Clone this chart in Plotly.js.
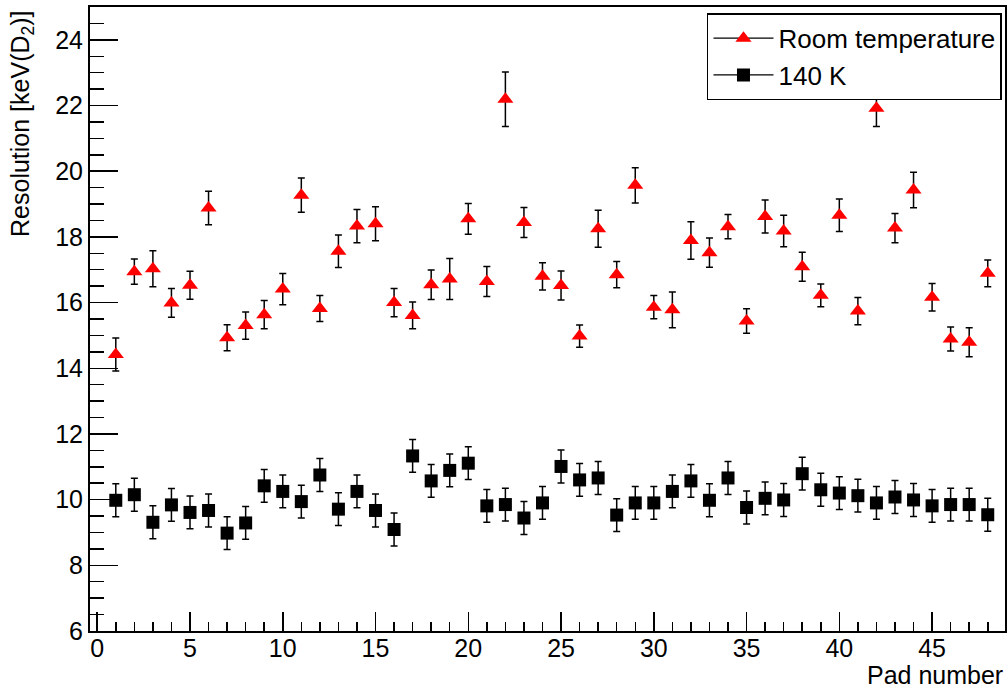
<!DOCTYPE html>
<html><head><meta charset="utf-8">
<script src="https://cdn.plot.ly/plotly-3.0.1.min.js"></script>
<style>html,body{margin:0;padding:0;background:#fff}#plot{width:1008px;height:689px}</style>
</head><body><div id="plot"></div>
<script>
const pads = [1,2,3,4,5,6,7,8,9,10,11,12,13,14,15,16,17,18,19,20,21,22,23,24,25,26,27,28,29,30,31,32,33,34,35,36,37,38,39,40,41,42,43,44,45,46,47,48];
const roomTemp = [14.42,16.94,17.03,15.99,16.53,18.88,14.93,15.30,15.63,16.41,19.27,15.82,17.56,18.33,18.40,16.00,15.61,16.54,16.72,18.55,16.64,22.19,18.44,16.80,16.52,14.98,18.25,16.85,19.57,15.86,15.78,17.89,17.52,18.31,15.44,18.62,18.18,17.09,16.22,18.66,15.74,21.92,18.27,19.43,16.16,14.89,14.79,16.89];
const roomTempErr = [0.50,0.385,0.545,0.435,0.425,0.51,0.395,0.415,0.43,0.475,0.52,0.395,0.495,0.505,0.515,0.43,0.41,0.45,0.625,0.47,0.455,0.83,0.455,0.415,0.44,0.34,0.565,0.40,0.535,0.355,0.545,0.57,0.445,0.37,0.375,0.50,0.48,0.44,0.345,0.495,0.415,0.56,0.445,0.54,0.42,0.365,0.44,0.41];
const cold = [9.98,10.15,9.31,9.84,9.61,9.67,8.98,9.29,10.42,10.25,9.94,10.75,9.71,10.25,9.67,9.09,11.33,10.57,10.89,11.11,9.81,9.85,9.44,9.90,11.01,10.60,10.66,9.53,9.90,9.90,10.25,10.57,9.98,10.66,9.76,10.04,9.99,10.79,10.30,10.20,10.12,9.90,10.08,9.99,9.81,9.85,9.85,9.54];
const coldErr = [0.5,0.5,0.5,0.5,0.5,0.5,0.5,0.5,0.5,0.5,0.5,0.5,0.5,0.5,0.5,0.5,0.5,0.5,0.5,0.5,0.5,0.5,0.5,0.5,0.5,0.5,0.5,0.5,0.5,0.5,0.5,0.5,0.5,0.5,0.5,0.5,0.5,0.5,0.5,0.5,0.5,0.5,0.5,0.5,0.5,0.5,0.5,0.5];
const seriesNames = ['Room temperature', '140 K'];
const xTitle = 'Pad number';
const yTitle = 'Resolution [keV(D<sub>2</sub>)]';

const FONT = "'Liberation Sans', Arial, sans-serif";
const errStyle = {type:'data', visible:true, color:'black', thickness:1.5, width:3.5};

const data = [
  {x: pads, y: roomTemp, type:'scatter', mode:'markers', showlegend:false,
   error_y: Object.assign({array: roomTempErr}, errStyle),
   marker:{symbol:'triangle-up', size:14, color:'#ff0000'}},
  {x: pads, y: cold, type:'scatter', mode:'markers', showlegend:false,
   error_y: Object.assign({array: coldErr}, errStyle),
   marker:{symbol:'square', size:13, color:'black'}},
  {x:[null], y:[null], type:'scatter', mode:'lines+markers', name: seriesNames[0],
   line:{color:'black', width:1.2}, marker:{symbol:'triangle-up', size:14, color:'#ff0000'}},
  {x:[null], y:[null], type:'scatter', mode:'lines+markers', name: seriesNames[1],
   line:{color:'black', width:1.2}, marker:{symbol:'square', size:13, color:'black'}}
];

const layout = {
  width:1008, height:689,
  margin:{l:90, r:3, t:7, b:57.5},
  paper_bgcolor:'white', plot_bgcolor:'white',
  font:{family:FONT, size:25, color:'black'},
  xaxis:{range:[-0.39, 48.93], showgrid:false, zeroline:false,
    showline:true, linecolor:'black', linewidth:2, mirror:true,
    ticks:'inside', ticklen:19, tickwidth:1.5, tickcolor:'black',
    tick0:0, dtick:5, tickfont:{size:25}, ticklabelstandoff:-6,
    minor:{ticks:'inside', ticklen:9, tickwidth:1.5, tickcolor:'black', dtick:1, showgrid:false}},
  yaxis:{range:[6, 25], showgrid:false, zeroline:false,
    showline:true, linecolor:'black', linewidth:2, mirror:true,
    ticks:'inside', ticklen:28, tickwidth:1.5, tickcolor:'black',
    tick0:0, dtick:2, tickfont:{size:25},
    minor:{ticks:'inside', ticklen:14, tickwidth:1.5, tickcolor:'black', dtick:0.5, showgrid:false}},
  legend:{x:0.9967, y:0.990, xanchor:'right', yanchor:'top',
    bgcolor:'white', bordercolor:'black', borderwidth:1.5,
    font:{size:26}, itemwidth:60, tracegroupgap:0},
  annotations:[
    {text: xTitle, xref:'paper', yref:'paper', x:1, y:-0.0713, xanchor:'right', yanchor:'middle',
     showarrow:false, font:{size:25}},
    {text: yTitle, xref:'paper', yref:'paper', x:-0.0738, y:0.9984, xanchor:'center', yanchor:'top',
     textangle:-90, showarrow:false, font:{size:25}}
  ]
};

Plotly.newPlot('plot', data, layout, {displayModeBar:false, staticPlot:true});
</script></body></html>
